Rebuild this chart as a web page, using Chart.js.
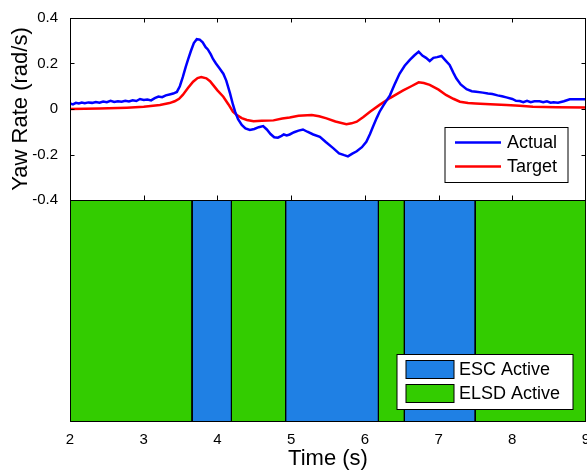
<!DOCTYPE html>
<html><head><meta charset="utf-8">
<script src="https://cdn.jsdelivr.net/npm/chart.js@4"></script>
<style>html,body{margin:0;padding:0;background:#fff}#wrap{width:587px;height:472px}</style>
</head><body><div id="wrap"><canvas id="c" width="587" height="472"></canvas></div>
<script>
// ---- data ----
const timeActual = [2.00,2.04,2.08,2.12,2.16,2.20,2.25,2.30,2.35,2.40,2.45,2.50,2.55,2.60,2.65,2.70,2.75,2.80,2.85,2.90,2.95,3.00,3.05,3.10,3.15,3.20,3.25,3.30,3.35,3.40,3.45,3.49,3.53,3.57,3.60,3.64,3.68,3.72,3.76,3.80,3.84,3.87,3.91,3.94,3.98,4.03,4.08,4.12,4.17,4.21,4.24,4.28,4.33,4.38,4.44,4.50,4.56,4.62,4.67,4.72,4.77,4.82,4.87,4.90,4.94,4.98,5.04,5.10,5.16,5.22,5.30,5.39,5.47,5.57,5.65,5.72,5.77,5.83,5.89,5.96,6.02,6.07,6.11,6.16,6.20,6.25,6.30,6.34,6.40,6.47,6.54,6.61,6.67,6.73,6.78,6.83,6.88,6.93,6.98,7.04,7.09,7.15,7.20,7.24,7.30,7.38,7.45,7.51,7.60,7.67,7.73,7.80,7.86,7.92,8.00,8.05,8.10,8.15,8.20,8.25,8.30,8.37,8.42,8.47,8.52,8.56,8.62,8.70,8.78,8.88,9.00];
const actual = [0.025,0.020,0.027,0.024,0.028,0.025,0.029,0.027,0.031,0.028,0.033,0.030,0.036,0.031,0.034,0.032,0.036,0.033,0.038,0.035,0.044,0.040,0.042,0.038,0.048,0.055,0.052,0.060,0.064,0.068,0.075,0.100,0.140,0.185,0.216,0.255,0.290,0.307,0.305,0.293,0.272,0.262,0.240,0.220,0.200,0.178,0.155,0.125,0.070,0.020,-0.012,-0.045,-0.070,-0.085,-0.092,-0.088,-0.080,-0.075,-0.090,-0.110,-0.124,-0.126,-0.118,-0.112,-0.116,-0.112,-0.102,-0.095,-0.090,-0.100,-0.112,-0.122,-0.145,-0.172,-0.195,-0.203,-0.208,-0.196,-0.186,-0.168,-0.144,-0.110,-0.078,-0.040,-0.012,0.015,0.040,0.060,0.105,0.155,0.190,0.216,0.235,0.252,0.235,0.225,0.211,0.225,0.228,0.233,0.215,0.194,0.160,0.135,0.108,0.087,0.078,0.076,0.072,0.068,0.066,0.060,0.056,0.051,0.044,0.036,0.035,0.030,0.036,0.030,0.034,0.034,0.030,0.034,0.028,0.030,0.028,0.034,0.043,0.043,0.043];
const timeTarget = [2.00,2.40,2.77,3.00,3.22,3.35,3.42,3.48,3.53,3.60,3.67,3.73,3.78,3.85,3.90,3.94,4.00,4.08,4.15,4.21,4.27,4.33,4.40,4.49,4.60,4.76,4.88,4.98,5.10,5.28,5.38,5.48,5.60,5.75,5.82,5.89,5.98,6.07,6.20,6.34,6.52,6.63,6.73,6.80,6.88,7.00,7.10,7.20,7.29,7.40,7.50,7.70,7.92,8.10,8.28,8.60,9.00];
const target = [0.000,0.002,0.006,0.010,0.018,0.026,0.034,0.045,0.062,0.092,0.120,0.136,0.140,0.135,0.122,0.106,0.082,0.054,0.020,-0.012,-0.028,-0.040,-0.048,-0.054,-0.052,-0.050,-0.042,-0.037,-0.030,-0.026,-0.032,-0.041,-0.055,-0.067,-0.063,-0.056,-0.035,-0.012,0.018,0.048,0.082,0.100,0.117,0.114,0.106,0.085,0.062,0.045,0.032,0.026,0.024,0.021,0.018,0.014,0.010,0.008,0.007];
const modeStart = [2.000,3.656,4.190,4.925,6.184,6.536,7.497];
const modeEnd   = [3.656,4.190,4.925,6.184,6.536,7.497,9.000];
const modeName  = ['ELSD Active','ESC Active','ELSD Active','ESC Active','ELSD Active','ESC Active','ELSD Active'];
const lineLabels = ['Actual','Target'];
const modeLabels = ['ESC Active','ELSD Active'];
const xTicks = [2,3,4,5,6,7,8,9];
const yTicks = [-0.4,-0.2,0,0.2,0.4];

// ---- styles ----
const FONT = '"Liberation Sans", Arial, Helvetica, sans-serif';
const lineColors = {'Actual':'#0000ff','Target':'#ff0000'};
const modeColors = {'ESC Active':'#1f80e4','ELSD Active':'#33cc00'};

const datasets = [];
datasets.push({label:lineLabels[0], data: timeActual.map((t,i)=>({x:t,y:actual[i]})), yAxisID:'y',
  borderColor:lineColors.Actual, borderWidth:2.5, pointRadius:0, tension:0, fill:false});
datasets.push({label:lineLabels[1], data: timeTarget.map((t,i)=>({x:t,y:target[i]})), yAxisID:'y',
  borderColor:lineColors.Target, borderWidth:2.5, pointRadius:0, tension:0, fill:false});
modeStart.forEach((s,i)=>{
  const e = modeEnd[i];
  datasets.push({label:modeName[i], data:[{x:s,y:0},{x:s,y:1},{x:e,y:1},{x:e,y:0}], yAxisID:'y2',
    borderColor:'#000', borderWidth:1, backgroundColor:modeColors[modeName[i]], fill:'origin', pointRadius:0, tension:0});
});

const framePlugin = {
  id:'frame',
  afterDatasetsDraw(chart){
    const ctx = chart.ctx, ca = chart.chartArea, ys = chart.scales.y, y2 = chart.scales.y2, xs = chart.scales.x;
    const L = Math.round(ca.left)+0.5, R = Math.round(ca.right)-0.5;
    const T = Math.round(ys.top)+0.5, B = Math.round(ys.bottom)+0.5;
    const B2 = Math.round(y2.bottom)-0.5;
    ctx.save();
    ctx.strokeStyle='#000'; ctx.lineWidth=1;
    ctx.strokeRect(L, T, R-L, B-T);
    ctx.beginPath(); ctx.moveTo(L, B); ctx.lineTo(L, B2); ctx.lineTo(R, B2); ctx.stroke();
    // inward ticks on top panel
    ctx.beginPath();
    xTicks.forEach(v=>{
      const px = Math.round(xs.getPixelForValue(v))+0.5;
      if (v===xTicks[0] || v===xTicks[xTicks.length-1]) return;
      ctx.moveTo(px,T); ctx.lineTo(px,T+4);
      ctx.moveTo(px,B); ctx.lineTo(px,B-5);
    });
    yTicks.forEach(v=>{
      const py = Math.round(ys.getPixelForValue(v))+0.5;
      ctx.moveTo(L,py); ctx.lineTo(L+4,py);
      ctx.moveTo(R,py); ctx.lineTo(R-4,py);
    });
    ctx.stroke();
    // legend 1 (lines)
    ctx.fillStyle='#fff';
    const l1x = R-140.5, l1y = T+109;
    ctx.fillRect(l1x, l1y, 123, 55); ctx.strokeRect(l1x, l1y, 123, 55);
    ctx.font = '18px '+FONT; ctx.textBaseline='middle'; ctx.textAlign='left';
    lineLabels.forEach((lab,i)=>{
      const cy = l1y + 15 + i*24;
      ctx.strokeStyle=lineColors[lab]; ctx.lineWidth=2.5;
      ctx.beginPath(); ctx.moveTo(l1x+10, cy); ctx.lineTo(l1x+56, cy); ctx.stroke();
      ctx.fillStyle='#000'; ctx.fillText(lab, l1x+62, cy+1);
    });
    // legend 2 (modes)
    ctx.strokeStyle='#000'; ctx.lineWidth=1; ctx.fillStyle='#fff';
    const l2x = R-188.5, l2y = Math.round(y2.bottom)-67.5;
    ctx.fillRect(l2x, l2y, 176, 55); ctx.strokeRect(l2x, l2y, 176, 55);
    modeLabels.forEach((lab,i)=>{
      const by = l2y + 6 + i*24;
      ctx.fillStyle=modeColors[lab]; ctx.fillRect(l2x+9, by, 48, 18);
      ctx.strokeStyle='#000'; ctx.strokeRect(l2x+9, by, 48, 18);
      ctx.fillStyle='#000'; ctx.fillText(lab, l2x+62, by+10);
    });
    ctx.restore();
  }
};

new Chart(document.getElementById('c'), {
  type:'line',
  data:{datasets},
  options:{
    responsive:false, animation:false, devicePixelRatio:1,
    layout:{padding:{top:18,right:1,left:0,bottom:0}},
    plugins:{legend:{display:false}, tooltip:{enabled:false}},
    scales:{
      x:{type:'linear', position:'bottom', min:2, max:9,
        afterBuildTicks:s=>{s.ticks = xTicks.map(v=>({value:v}));},
        afterFit:s=>{s.height=50; s.paddingLeft=0; s.paddingRight=0;},
        grid:{display:false}, border:{display:false},
        ticks:{font:{family:FONT,size:15}, color:'#000', padding:1, maxRotation:0, autoSkip:false, callback:v=>String(v)},
        title:{display:true, text:'Time (s)', font:{family:FONT,size:22}, color:'#000', padding:{top:0,bottom:0}}
      },
      y2:{type:'linear', position:'left', min:0, max:1, stack:'p', stackWeight:222,
        afterFit:s=>{s.width=70; s.paddingTop=0; s.paddingBottom=0;},
        grid:{display:false}, border:{display:false}, ticks:{display:false}
      },
      y:{type:'linear', position:'left', min:-0.4, max:0.4, stack:'p', stackWeight:182,
        afterBuildTicks:s=>{s.ticks = yTicks.map(v=>({value:v}));},
        afterFit:s=>{s.width=70; s.paddingTop=0; s.paddingBottom=0;},
        grid:{display:false}, border:{display:false},
        ticks:{font:{family:FONT,size:15}, color:'#000', padding:4, callback:v=>String(Math.round(v*10)/10)},
        title:{display:true, text:'Yaw Rate (rad/s)', font:{family:FONT,size:22}, color:'#000', padding:{top:8,bottom:0}}
      }
    }
  },
  plugins:[framePlugin]
});
</script></body></html>
